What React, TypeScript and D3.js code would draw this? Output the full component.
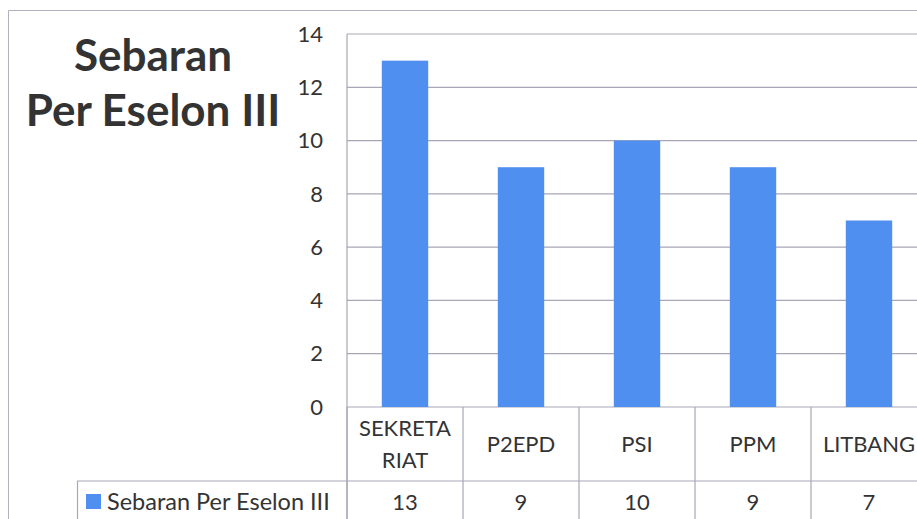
import React from "react";
import * as d3 from "d3";

const categories = ["SEKRETARIAT", "P2EPD", "PSI", "PPM", "LITBANG"];
const categoryLines = [["SEKRETA", "RIAT"], ["P2EPD"], ["PSI"], ["PPM"], ["LITBANG"]];
const values = [13, 9, 10, 9, 7];
const yTicks = [0, 2, 4, 6, 8, 10, 12, 14];
const seriesName = "Sebaran Per Eselon III";
const titleLines = ["Sebaran", "Per Eselon III"];

const W = 917;
const H = 519;
const plotLeft = 347;
const plotTop = 34;
const plotBottom = 407;
const colW = 116;
const tableRow1Bottom = 481;
const blue = "#4f8ff0";
const gridColor = "#a7a7b8";
const textColor = "#333333";
const font = "Lato, 'Open Sans', sans-serif";

export default function App() {
  const x = d3
    .scaleBand<string>()
    .domain(categories)
    .range([plotLeft, plotLeft + colW * categories.length])
    .padding(0);
  const y = d3.scaleLinear().domain([0, 14]).range([plotBottom, plotTop]);
  const bw = x.bandwidth() * 0.4;
  const colEdges = categories.map((c) => x(c) as number).concat([plotLeft + colW * categories.length]);

  return (
    <div style={{ position: "fixed", left: 0, top: 0, width: W, height: H, background: "#fff" }}>
      <svg width={W} height={H} style={{ display: "block" }} fontFamily={font}>
        <rect x={0} y={0} width={W} height={H} fill="#fff" />
        {/* outer chart border */}
        <path d={`M8.5,${H} V10.5 H${W}`} fill="none" stroke="#b0b0c0" strokeWidth={1} />
        {/* title */}
        {titleLines.map((t, i) => (
          <text
            key={t}
            x={153}
            y={71 + i * 55}
            textAnchor="middle"
            fontWeight={700}
            fontSize={44}
            fill={textColor}
          >
            {t}
          </text>
        ))}
        {/* grid */}
        {yTicks.map((t) => (
          <line key={t} x1={plotLeft} x2={W} y1={y(t)} y2={y(t)} stroke={gridColor} strokeWidth={1.2} />
        ))}
        <line x1={plotLeft} x2={plotLeft} y1={plotTop} y2={H} stroke={gridColor} strokeWidth={1.2} />
        {/* y tick labels */}
        {yTicks.map((t) => (
          <text key={t} x={323} y={y(t)} dy="0.35em" textAnchor="end" fontSize={22} fill={textColor}>
            {t}
          </text>
        ))}
        {/* bars */}
        {categories.map((c, i) => (
          <rect
            key={c}
            x={(x(c) as number) + (x.bandwidth() - bw) / 2}
            y={y(values[i])}
            width={bw}
            height={y(0) - y(values[i])}
            fill={blue}
          />
        ))}
        {/* data table */}
        {colEdges.map((e, i) => (
          <line key={i} x1={e} x2={e} y1={plotBottom} y2={H} stroke={gridColor} strokeWidth={1.2} />
        ))}
        <line x1={77} x2={W} y1={tableRow1Bottom} y2={tableRow1Bottom} stroke={gridColor} strokeWidth={1.2} />
        <line x1={77.5} x2={77.5} y1={tableRow1Bottom} y2={H} stroke={gridColor} strokeWidth={1.2} />
        {categories.map((c, i) => {
          const cx = (x(c) as number) + x.bandwidth() / 2;
          const lines = categoryLines[i];
          const mid = (plotBottom + tableRow1Bottom) / 2;
          return lines.map((l, j) => (
            <text
              key={c + j}
              x={cx}
              y={mid + (j - (lines.length - 1) / 2) * 32}
              dy="0.35em"
              textAnchor="middle"
              fontSize={22}
              fill={textColor}
            >
              {l}
            </text>
          ));
        })}
        {categories.map((c, i) => (
          <text
            key={c + "v"}
            x={(x(c) as number) + x.bandwidth() / 2}
            y={502}
            dy="0.35em"
            textAnchor="middle"
            fontSize={22}
            fill={textColor}
          >
            {values[i]}
          </text>
        ))}
        {/* legend key */}
        <rect x={86} y={494} width={15} height={15} fill={blue} />
        <text x={107} y={502} dy="0.35em" fontSize={23.5} fill={textColor}>
          {seriesName}
        </text>
      </svg>
    </div>
  );
}
